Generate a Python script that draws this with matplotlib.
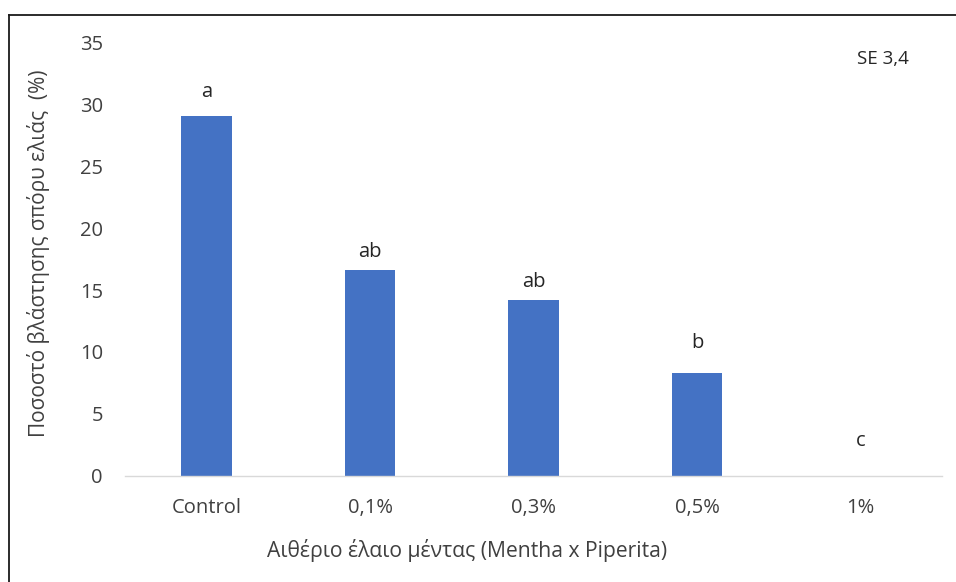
import matplotlib
matplotlib.use("Agg")
import matplotlib.pyplot as plt
from matplotlib.lines import Line2D

categories = ["Control", "0,1%", "0,3%", "0,5%", "1%"]
values = [29.1, 16.6, 14.2, 8.3, 0.0]
letters = ["a", "ab", "ab", "b", "c"]
yticks = [0, 5, 10, 15, 20, 25, 30, 35]

plt.rcParams['font.family'] = ['Open Sans', 'DejaVu Sans']

FS = 14.5

fig = plt.figure(figsize=(9.56, 5.82), dpi=100)
ax = fig.add_axes([0.1308, 0.1826, 0.8546, 0.7444])

x = list(range(len(categories)))
ax.bar(x, values, width=0.31, color="#4472C4", zorder=2)
ax.set_xlim(-0.5, len(categories) - 0.5)
ax.set_ylim(0, 35)
ax.set_yticks(yticks)
ax.set_yticklabels([str(t) for t in yticks])
ax.set_xticks(x)
ax.set_xticklabels(categories)

for s in ["top", "right", "left"]:
    ax.spines[s].set_visible(False)
ax.spines["bottom"].set_color("#d9d9d9")
ax.spines["bottom"].set_linewidth(1.0)
ax.tick_params(axis="both", length=0, colors="#404040", labelsize=FS)
ax.tick_params(axis="y", pad=16)
ax.tick_params(axis="x", pad=16)

# letter offsets above bars (pixels)
offsets_px = [24, 18, 18, 30, 35]
for xi, v, lab, off in zip(x, values, letters, offsets_px):
    ax.annotate(lab, (xi, v), xytext=(0, off * 0.72), textcoords="offset points",
                ha="center", va="center", fontsize=FS, color="#262626")

fig.text(883 / 956, 1 - 59 / 582, "SE 3,4", ha="center", va="center",
         fontsize=13.5, color="#262626")

ax.set_ylabel("Ποσοστό βλάστησης σπόρυ ελιάς  (%)", fontsize=15, color="#404040")
ax.yaxis.set_label_coords(-0.092, 0.513)
fig.text(467 / 956, 1 - 550 / 582, "Αιθέριο έλαιο μέντας (Mentha x Piperita)",
         ha="center", va="center", fontsize=15.2, color="#404040")

# outer frame
fig.add_artist(Line2D([9 / 956, 1.0], [1 - 15 / 582, 1 - 15 / 582],
                      transform=fig.transFigure, color="#1a1a1a", lw=1.3))
fig.add_artist(Line2D([9 / 956, 9 / 956], [0.0, 1 - 15 / 582],
                      transform=fig.transFigure, color="#1a1a1a", lw=1.3))

fig.savefig("out.png", dpi=100)
